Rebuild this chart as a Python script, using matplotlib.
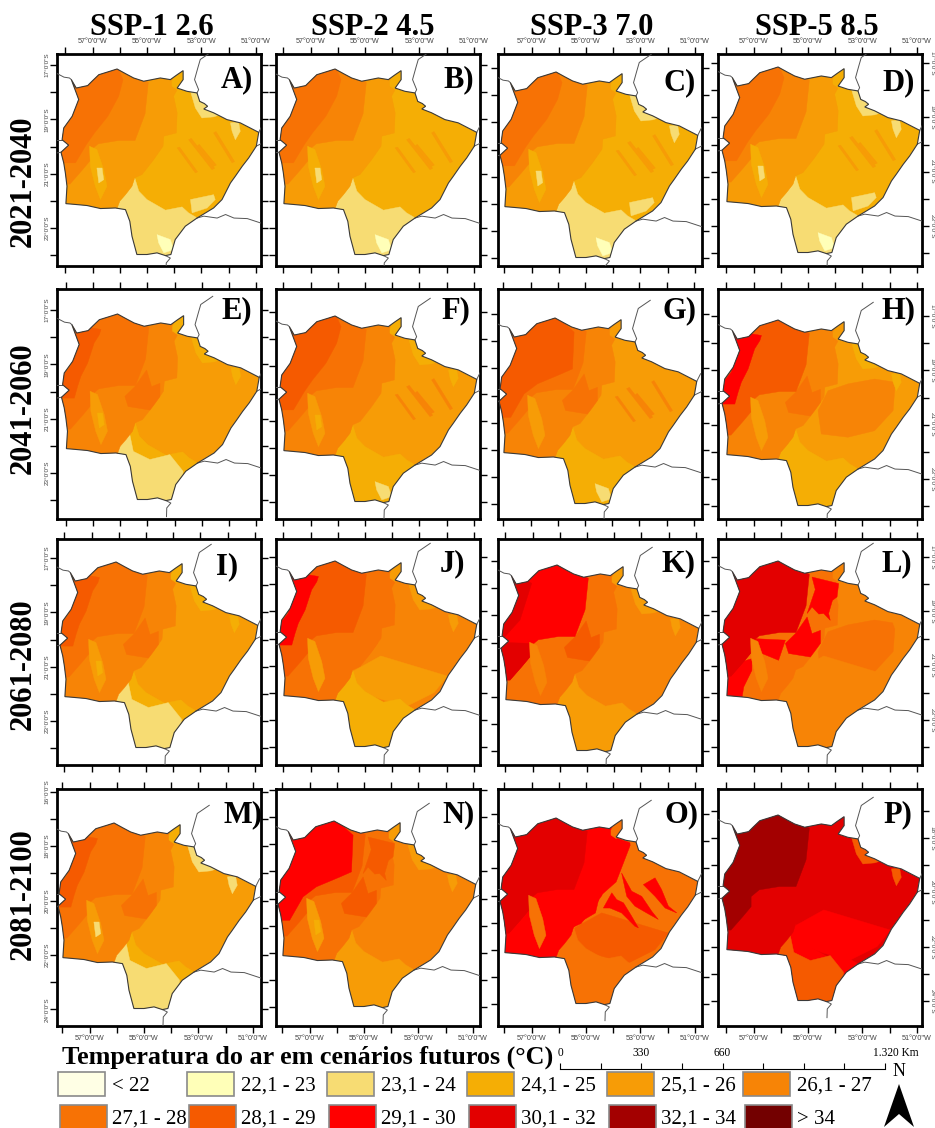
import numpy as np
import matplotlib
matplotlib.use("Agg")
import matplotlib.pyplot as plt
from matplotlib.patches import Polygon, Rectangle

SERIF = "Liberation Serif"
SANS = "Liberation Sans"

# ---- data -----------------------------------------------------------------
COLUMNS = ["SSP-1 2.6", "SSP-2 4.5", "SSP-3 7.0", "SSP-5 8.5"]
PERIODS = ["2021-2040", "2041-2060", "2061-2080", "2081-2100"]
LETTERS = list("ABCDEFGHIJKLMNOP")
CLASS_LABELS = ["< 22", "22,1 - 23", "23,1 - 24", "24,1 - 25", "25,1 - 26", "26,1 - 27",
                "27,1 - 28", "28,1 - 29", "29,1 - 30", "30,1 - 32", "32,1 - 34", "> 34"]
CLASS_COLORS = ["#FFFFE5", "#FFFFB8", "#F7DC73", "#F5AE05", "#F79C06", "#F78406",
                "#F77205", "#F55A00", "#FF0000", "#E30000", "#A30000", "#730000"]
LEGEND_TITLE = "Temperatura do ar em cenários futuros (°C)"
SCALE_KM = [0, 165, 330, 495, 660, 825, 990, 1155, 1320]
SCALE_LABELS = {0: "0", 330: "330", 660: "660", 1320: "1.320 Km"}

STATE_LON = [-57.78, -57.60, -57.18, -57.02, -56.77, -56.35, -56.10, -55.79, -55.49, -55.12, -54.81, -54.51,
             -54.14, -53.89, -53.67, -53.67, -53.89, -53.53, -53.16, -53.06, -52.89, -52.77, -52.91, -52.55,
             -52.06, -51.57, -50.89, -50.98, -51.26, -51.50, -51.75, -51.93, -52.24, -52.55, -53.16, -53.59,
             -53.96, -54.12, -54.32, -54.63, -55.00, -55.37, -55.55, -55.63, -55.79, -56.16, -56.71, -57.20,
             -57.63, -57.98, -57.94, -58.00, -58.06, -58.16, -57.88, -58.12, -58.06, -57.75, -57.51]
STATE_LAT = [-17.54, -17.85, -17.76, -17.60, -17.36, -17.23, -17.15, -17.32, -17.48, -17.60, -17.54, -17.48,
             -17.54, -17.36, -17.21, -17.54, -17.85, -17.97, -18.03, -18.34, -18.42, -18.52, -18.62, -18.76,
             -19.01, -19.13, -19.48, -19.99, -20.42, -20.73, -21.09, -21.34, -21.95, -22.26, -22.63, -22.93,
             -23.42, -23.97, -24.01, -23.91, -23.97, -23.97, -23.30, -22.75, -22.32, -22.26, -22.28, -22.17,
             -22.13, -22.10, -21.46, -20.97, -20.60, -20.21, -19.95, -19.75, -19.32, -18.89, -18.27]

BORDERS = [
    ([-58.30, -58.05, -57.85, -57.78], [-17.32, -17.45, -17.48, -17.54]),
    ([-58.40, -58.12], [-19.75, -19.75]),
    ([-58.40, -58.16], [-20.25, -20.21]),
    ([-52.60, -53.04, -53.13, -53.25, -53.10, -53.16], [-16.50, -16.80, -17.11, -17.54, -17.91, -18.03]),
    ([-50.89, -50.75], [-19.48, -19.20]),
    ([-50.98, -50.95, -50.70], [-19.99, -19.97, -19.85]),
    ([-53.16, -52.91, -52.42, -52.11, -51.80, -51.31, -50.70], [-22.63, -22.56, -22.63, -22.50, -22.63, -22.65, -22.85]),
    ([-54.32, -54.14, -54.29, -54.30], [-24.01, -24.10, -24.28, -24.60]),
]

# climate zones (digitised degrees): name, list of (lon, lat) parts, painted in this order
ZONE_GEOMETRY = {
    "E": [(STATE_LON, STATE_LAT)],
    "EI": [([-54.26, -53.53, -52.55, -51.79, -51.87, -52.55, -53.53, -54.51, -54.63],
            [-19.75, -19.50, -19.32, -19.44, -20.48, -21.22, -21.46, -21.34, -20.48])],
    "MS": [([-55.52, -54.42, -51.97, -52.46, -53.44, -54.42, -55.40],
            [-21.25, -20.64, -21.38, -21.99, -22.48, -22.23, -21.87])],
    "S": [([-56.16, -56.00, -55.79, -55.55, -55.45, -55.30, -55.00, -54.32, -53.71, -53.47, -53.04, -53.77, -56.10],
           [-22.44, -22.01, -21.77, -21.46, -21.15, -21.64, -21.95, -22.34, -22.22, -22.44, -22.69, -24.28, -24.28])],
    "S2": [([-56.16, -56.01, -55.65, -55.52, -54.91, -54.18, -53.69, -53.77, -56.10],
            [-22.44, -21.91, -21.58, -22.20, -22.50, -22.32, -22.93, -24.28, -24.28])],
    "C": [([-55.00, -54.02, -53.89, -54.02, -53.89, -53.92, -54.38, -54.41, -54.75, -55.18, -55.45, -55.55, -55.79,
            -56.00, -56.16, -58.31, -58.31, -55.00],
           [-17.48, -17.48, -17.91, -18.15, -18.76, -19.50, -19.62, -19.99, -20.48, -21.03, -21.15, -21.46, -21.77,
            -22.01, -22.44, -22.44, -17.05, -17.05])],
    "C2": [([-54.91, -53.34, -53.89, -54.51, -54.65, -55.28, -56.01, -56.50, -56.35, -55.49, -55.00],
            [-17.54, -18.07, -19.50, -20.05, -20.64, -21.01, -21.62, -21.38, -20.36, -19.75, -18.76])],
    "NL": [([-54.85, -53.87, -53.93, -54.10, -54.24, -54.18, -54.42, -54.60, -54.85, -55.03, -54.73],
            [-17.74, -17.98, -18.47, -18.60, -19.08, -19.33, -19.08, -19.10, -18.84, -19.08, -18.20])],
    "CL": [([-55.03, -54.85, -54.54, -54.54, -54.91, -55.71, -55.83, -55.46],
            [-19.21, -19.82, -19.70, -20.18, -20.68, -20.55, -20.18, -19.82])],
    "CW": [([-57.06, -55.83, -56.08, -56.69, -56.93], [-20.00, -20.06, -20.80, -20.55, -20.19])],
    "SWS": [([-58.04, -57.42, -57.36, -57.06, -57.06, -57.67, -58.06],
             [-22.09, -22.15, -21.78, -21.17, -20.74, -20.92, -21.22])],
    "W": [([-56.10, -54.95, -55.07, -55.44, -56.05, -56.79, -57.09, -57.09, -57.40, -57.83, -58.31, -58.31],
           [-17.05, -17.64, -18.80, -19.78, -19.78, -19.90, -20.15, -20.52, -20.89, -21.38, -21.38, -17.05])],
    "NB": [([-56.77, -56.10, -55.40, -55.46, -55.89, -56.75, -57.24, -57.73, -58.31, -58.31],
            [-17.23, -17.05, -17.67, -19.02, -19.21, -19.57, -19.94, -20.80, -20.80, -17.23])],
    "NW": [([-56.77, -56.10, -55.88, -56.04, -56.44, -56.93, -57.23, -57.63, -58.31, -58.31],
            [-17.23, -17.05, -17.54, -18.15, -18.89, -19.50, -19.93, -20.60, -20.60, -17.23])],
    "FW": [([-57.83, -57.03, -57.46, -58.01, -58.31, -57.15, -57.09, -57.40, -57.83, -58.31, -58.31],
            [-17.45, -17.82, -19.17, -19.78, -19.99, -20.03, -20.52, -20.89, -21.38, -21.38, -17.45])],
    "ST": [([-57.75, -56.71, -56.77, -56.96, -57.20, -57.45, -57.57, -57.69, -58.31, -58.31, -57.82, -57.57],
            [-17.54, -17.72, -17.91, -18.21, -18.95, -19.44, -19.81, -20.24, -20.24, -19.68, -19.07, -18.21])],
    "TIP": [([-54.08, -53.89, -53.59, -53.59, -53.89, -54.08], [-17.60, -17.23, -17.11, -17.60, -17.91, -17.78])],
    "NE": [([-53.40, -53.04, -52.67, -52.30, -52.55, -52.98, -53.22], [-17.97, -17.97, -18.58, -18.83, -18.91, -18.95, -18.58]),
           ([-51.93, -51.63, -51.57, -51.75, -51.87], [-19.13, -19.11, -19.44, -19.75, -19.44])],
    "SP": [([-57.11, -56.84, -56.59, -56.47, -56.71, -56.90, -57.08], [-19.99, -20.11, -20.85, -21.46, -21.95, -21.46, -20.73])],
    "SP2": [([-56.84, -56.65, -56.59, -56.77], [-20.79, -20.79, -21.22, -21.34])],
    "SE": [([-53.40, -52.55, -52.49, -52.79, -53.34], [-21.95, -21.77, -21.95, -22.26, -22.44])],
    "RID": [([-54.36, -54.05, -53.87, -53.62, -53.32, -53.07, -53.20, -53.69, -54.12],
             [-20.46, -19.90, -20.15, -20.27, -20.76, -21.19, -21.13, -20.64, -20.46]),
            ([-53.69, -53.32, -52.95, -52.58, -52.34, -52.77, -53.20, -53.50],
             [-19.17, -19.84, -20.03, -20.58, -20.88, -20.64, -20.39, -20.03]),
            ([-52.89, -52.46, -52.22, -51.97, -51.66, -52.09, -52.46],
             [-19.60, -19.35, -19.78, -20.39, -20.64, -20.46, -20.03])],
    "RIDL": [([-53.89, -53.22, -53.14, -53.80], [-20.05, -20.97, -20.93, -20.02]),
             ([-53.47, -52.61, -52.51, -53.37], [-19.75, -20.85, -20.80, -19.70]),
             ([-52.55, -51.87, -51.78, -52.46], [-19.50, -20.60, -20.55, -19.45]),
             ([-53.16, -52.55, -52.45, -53.08], [-19.99, -20.73, -20.68, -19.92])],
    "SS": [([-54.63, -54.14, -54.02, -54.38, -54.57], [-23.24, -23.42, -23.79, -23.91, -23.54])],
}

# class index of each zone in panels A..P (-1: zone not present)
ZONE_CLASS = {
    "E":   [3, 3, 3, 3, 4, 4, 4, 4, 4, 5, 5, 5, 4, 5, 6, 9],
    "EI":  [-1, -1, -1, -1, -1, -1, -1, 5, -1, -1, -1, 6, -1, -1, -1, -1],
    "MS":  [-1, -1, -1, -1, -1, -1, -1, -1, -1, 4, -1, 5, -1, -1, 7, 8],
    "S":   [2, 2, 2, 2, 3, 3, 3, 3, 3, 3, 4, 5, 3, 4, 6, 8],
    "S2":  [-1, -1, -1, -1, 2, -1, -1, -1, 2, -1, -1, -1, 2, -1, -1, 7],
    "C":   [4, 4, 4, 4, 5, 5, 5, 5, 5, 6, 6, 6, 5, 6, 8, 9],
    "C2":  [-1, -1, -1, -1, -1, -1, -1, -1, -1, -1, -1, -1, -1, -1, 8, -1],
    "NL":  [-1, -1, -1, -1, -1, -1, -1, -1, -1, -1, -1, 8, -1, 7, -1, -1],
    "CL":  [-1, -1, -1, -1, 6, -1, 6, 6, 6, 6, 7, 8, 6, 7, -1, -1],
    "CW":  [-1, -1, -1, -1, -1, -1, -1, -1, -1, -1, -1, 8, -1, -1, -1, -1],
    "SWS": [-1, -1, -1, -1, -1, -1, -1, -1, -1, -1, -1, 8, -1, -1, 8, 9],
    "W":   [5, 5, 5, 5, 6, 6, 6, 7, 6, 7, 8, 9, 6, 7, 9, 10],
    "NB":  [-1, -1, -1, -1, -1, -1, 7, -1, -1, -1, -1, -1, -1, 8, -1, -1],
    "NW":  [6, 6, 6, 6, -1, 7, -1, -1, -1, -1, -1, -1, -1, -1, -1, -1],
    "FW":  [-1, -1, -1, -1, -1, -1, -1, -1, -1, -1, 9, 9, -1, -1, 9, -1],
    "ST":  [-1, -1, -1, -1, 7, -1, -1, 8, 7, 8, -1, -1, 7, -1, -1, -1],
    "TIP": [3, 3, 3, 3, 3, 3, 4, 4, 3, 4, 4, 5, 3, 4, 6, 9],
    "NE":  [2, 3, 2, 2, 3, 3, 4, 3, 3, 4, 4, 5, 2, 4, 6, 7],
    "SP":  [3, 3, 3, 3, 4, 4, 4, 4, 4, 4, 5, 5, 4, 4, 6, -1],
    "SP2": [2, 2, 2, 2, 3, 3, -1, -1, 3, -1, -1, -1, 2, 3, -1, -1],
    "SE":  [2, -1, 2, 2, -1, -1, -1, -1, -1, -1, -1, -1, -1, -1, -1, -1],
    "RID": [-1, -1, -1, -1, -1, -1, -1, -1, -1, -1, -1, -1, -1, -1, 8, -1],
    "RIDL": [4, 4, 4, 4, -1, 5, 5, -1, -1, -1, -1, -1, -1, -1, -1, -1],
    "SS":  [1, 1, 1, 1, -1, 2, 2, -1, -1, -1, -1, -1, -1, -1, -1, -1],
}
LON_TICKS = [-58, -57, -56, -55, -54, -53, -52, -51]
LAT_TICKS = [-24, -23, -22, -21, -20, -19, -18, -17, -16]

# ---- layout (pixels) ------------------------------------------------------
W, H = 935, 1128
FRAME_X = [(57, 261), (276, 480), (498, 702), (718, 922)]
FRAME_Y = [(54, 266), (289, 519), (539, 765), (789, 1026)]
MAP_WEST_X = [61, 279, 500, 722, 61.5, 279, 499, 722, 60, 279, 501, 722, 58, 278, 500, 722]
MAP_PEAK_Y = [69, 69, 72, 67, 314, 316, 318, 320, 562, 561, 565, 561, 823, 821, 818, 815]
LETTER_X = [253, 474, 696, 915, 252, 470, 697, 916, 238, 465, 696, 912, 262, 475, 699, 912]
LETTER_Y = [87, 87, 90, 90, 318, 318, 318, 318, 574, 571, 571, 571, 822, 822, 822, 822]
PX_PER_DEG = 27.2
TITLE_X = [152, 373, 592, 817]
PERIOD_Y = [181, 408, 664, 894]
LEG_X = [58, 187, 327, 467, 607, 743]
LEG_TXT_X = [112, 241, 381, 521, 661, 797]
LEG_Y = [1072, 1105]

fig = plt.figure(figsize=(W / 100, H / 100), dpi=100, facecolor="white")


def pos(l, r, t, b):
    return [l / W, 1 - b / H, (r - l) / W, (b - t) / H]


outline = np.column_stack([STATE_LON, STATE_LAT])
for i, letter in enumerate(LETTERS):
    row, col = divmod(i, 4)
    fl, fr = FRAME_X[col]
    ft, fb = FRAME_Y[row]
    ax = fig.add_axes(pos(fl, fr, ft, fb))
    x0 = min(STATE_LON) - (MAP_WEST_X[i] - fl) / PX_PER_DEG
    y1 = max(STATE_LAT) + (MAP_PEAK_Y[i] - ft) / PX_PER_DEG
    ax.set_xlim(x0, x0 + (fr - fl) / PX_PER_DEG)
    ax.set_ylim(y1 - (fb - ft) / PX_PER_DEG, y1)

    clip = Polygon(outline, closed=True, transform=ax.transData)
    for name, parts in ZONE_GEOMETRY.items():
        cls = ZONE_CLASS[name][i]
        if cls < 0:
            continue
        for lon, lat in parts:
            p = Polygon(np.column_stack([lon, lat]), closed=True, facecolor=CLASS_COLORS[cls],
                        edgecolor=CLASS_COLORS[cls], linewidth=0.3, zorder=2)
            ax.add_patch(p)
            p.set_clip_path(clip)
    ax.add_patch(Polygon(outline, closed=True, fill=False, edgecolor="#3a3a3a", linewidth=0.8, zorder=4))
    for lon, lat in BORDERS:
        ax.plot(lon, lat, color="#555555", linewidth=0.7, zorder=3)

    xt = [v for v in LON_TICKS if ax.get_xlim()[0] < v < ax.get_xlim()[1]]
    yt = [v for v in LAT_TICKS if ax.get_ylim()[0] < v < ax.get_ylim()[1]]
    ax.set_xticks(xt, [f"{abs(v)}°0'0\"W" if v % 2 else "" for v in xt])
    ax.set_yticks(yt, [(f"{abs(v)}°0'0\"S" if (v % 2) == (0 if row == 3 else 1) else "") for v in yt])
    ax.tick_params(axis="both", which="major", direction="out", length=5.2, width=1.0, color="black",
                   top=True, bottom=True, left=True, right=True,
                   labeltop=row == 0, labelbottom=row == 3, labelleft=col == 0, labelright=col == 3,
                   labelsize=5.2, labelcolor="#444444", pad=1.0)
    ax.tick_params(axis="y", which="major", labelsize=4.6, pad=0.2)
    for lab in ax.get_xticklabels():
        lab.set_fontfamily(SANS)
    for lab in ax.get_yticklabels():
        lab.set_fontfamily(SANS)
        lab.set_verticalalignment("center")
    for t in ax.yaxis.get_ticklabels():
        t.set_rotation(90)
    for tk in ax.yaxis.get_major_ticks():
        tk.label2.set_rotation(270)
        tk.label2.set_fontfamily(SANS)
        tk.label2.set_verticalalignment("center")
    for tk in ax.xaxis.get_major_ticks():
        tk.label2.set_fontfamily(SANS)
    for s in ax.spines.values():
        s.set_linewidth(2.0)

ov = fig.add_axes([0, 0, 1, 1], zorder=10)
ov.set_xlim(0, W)
ov.set_ylim(H, 0)
ov.axis("off")
ov.patch.set_alpha(0)

for i, letter in enumerate(LETTERS):
    ov.text(LETTER_X[i], LETTER_Y[i], letter + ")", family=SERIF, weight="bold", fontsize=22,
            ha="right", va="baseline", color="black")
for x, t in zip(TITLE_X, COLUMNS):
    ov.text(x, 35, t, family=SERIF, weight="bold", fontsize=22, ha="center", va="baseline")
for y, t in zip(PERIOD_Y, PERIODS):
    ov.text(23, y, t, family=SERIF, weight="bold", fontsize=22, rotation=90, ha="center", va="center")

ov.text(62, 1064, LEGEND_TITLE, family=SERIF, weight="bold", fontsize=18.8, ha="left", va="baseline")
for k, (lab, colr) in enumerate(zip(CLASS_LABELS, CLASS_COLORS)):
    r, c = divmod(k, 6)
    ov.add_patch(Rectangle((LEG_X[c] + (1.5 if r else 0), LEG_Y[r]), 47, 24, facecolor=colr,
                           edgecolor="#8a8a8a", linewidth=1.2, clip_on=True))
    ov.text(LEG_TXT_X[c], LEG_Y[r] + 19, lab, family=SERIF, fontsize=15, ha="left", va="baseline")

# scale bar on its own km axis
sb = fig.add_axes(pos(560, 885, 1060, 1069), zorder=11)
sb.set_xlim(0, 1320)
sb.set_ylim(0, 1)
sb.patch.set_alpha(0)
for k in ("left", "right", "top"):
    sb.spines[k].set_visible(False)
sb.spines["bottom"].set_linewidth(0.8)
sb.set_yticks([])
sb.set_xticks(SCALE_KM, [SCALE_LABELS.get(v, "") for v in SCALE_KM])
sb.tick_params(axis="x", direction="in", length=4, width=0.8, bottom=True, top=False, labelbottom=False)
for v in SCALE_KM:
    if v in SCALE_LABELS:
        ov.text(560 + v * 325 / 1320 + (11 if v == 1320 else 0), 1056, SCALE_LABELS[v], family=SERIF,
                fontsize=8.3, ha="center", va="baseline")

ov.text(899, 1076, "N", family=SERIF, fontsize=13, ha="center", va="baseline")
ov.add_patch(Polygon([(899, 1084), (914, 1127), (899, 1114), (884, 1127)], closed=True, facecolor="black", edgecolor="none"))

fig.savefig("out.png", dpi=100)
